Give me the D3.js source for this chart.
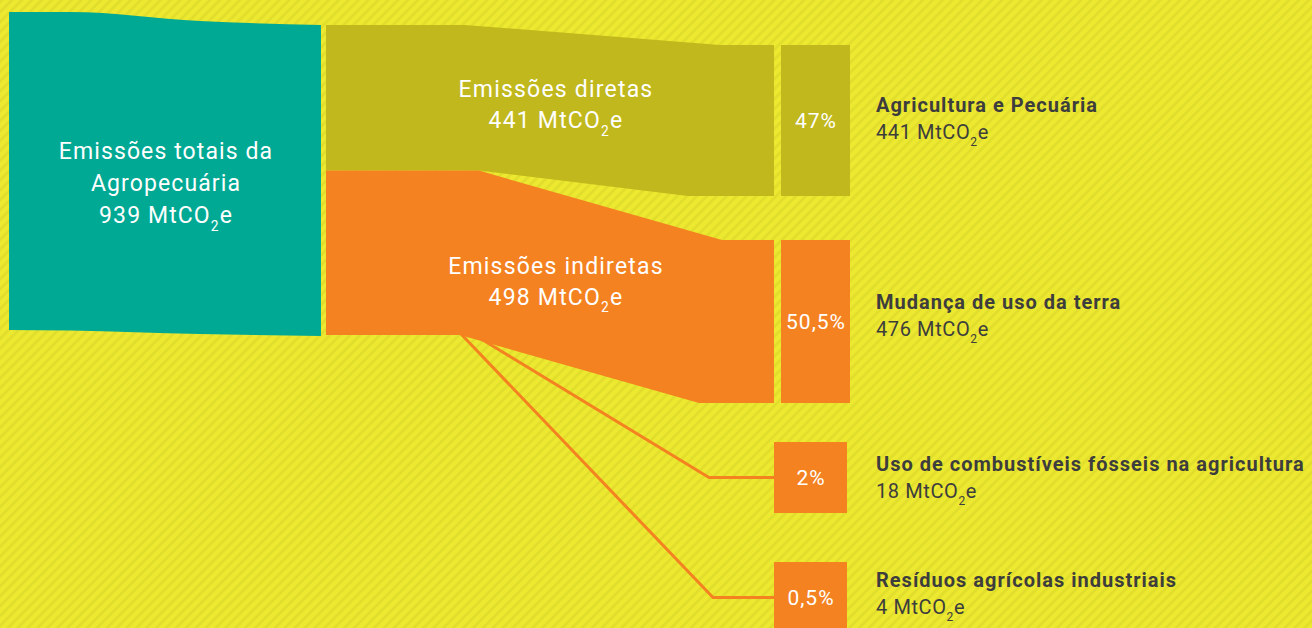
<!DOCTYPE html>
<html>
<head>
<meta charset="utf-8">
<script src="https://cdn.jsdelivr.net/npm/d3@7"></script>
<style>
  html, body { margin: 0; padding: 0; background: #ECE930; }
  svg { display: block; }
  text { font-family: Roboto, "Noto Sans", sans-serif; }
</style>
</head>
<body>
<svg id="chart" width="1312" height="628"></svg>
<script>
// ---------- data ----------
const totalLabel = ["Emissões totais da", "Agropecuária"];
const totalValue = 939;
const groupNames = ["Emissões diretas", "Emissões indiretas"];
const groupValues = [441, 498];
const sectorNames = ["Agricultura e Pecuária", "Mudança de uso da terra",
  "Uso de combustíveis fósseis na agricultura", "Resíduos agrícolas industriais"];
const sectorValues = [441, 476, 18, 4];
const sectorShares = ["47%", "50,5%", "2%", "0,5%"];
const sectorGroup = [0, 1, 1, 1];
const unit = "MtCO";

// ---------- style / layout ----------
const W = 1312, H = 628;
const C = { bg: "#ECE930", stripe: "#E1DD2C", teal: "#00A994", olive: "#C1B81D", orange: "#F48221", text: "#3D3D3D" };
const svg = d3.select("#chart");

const defs = svg.append("defs");
const pat = defs.append("pattern").attr("id", "stripes")
  .attr("width", 7).attr("height", 7).attr("patternUnits", "userSpaceOnUse")
  .attr("patternTransform", "rotate(45)");
pat.append("rect").attr("width", 7).attr("height", 7).attr("fill", C.bg);
pat.append("line").attr("x1", 1.5).attr("y1", 0).attr("x2", 1.5).attr("y2", 7)
  .attr("stroke", C.stripe).attr("stroke-width", 2.6);
svg.append("rect").attr("width", W).attr("height", H).attr("fill", "url(#stripes)");

// scales
const kTotal = d3.scaleLinear().domain([0, totalValue]).range([0, 318]);
const kGroup = d3.scaleLinear().domain([0, d3.sum(groupValues)]).range([0, 310]);
const kBox = d3.scaleLinear().domain([0, 476]).range([0, 163]);
const minBox = 71;

// column x
const x0 = 9, x1 = 321, x2 = 326, xFlowEnd = 774, xBox = 781, xBoxEnd = 850, xSmall = 774, xSmallEnd = 847, xLabel = 876;

// node 1 (teal)
const tealTopL = 12, tealTopR = 25;
const tealBotL = tealTopL + kTotal(totalValue), tealBotR = 336;
const curve = d3.line().curve(d3.curveMonotoneX);
const tealTop = [[x0, tealTopL], [70, tealTopL], [200, 21], [x1, tealTopR]];
const tealBot = [[x1, tealBotR], [200, 334], [70, tealBotL + 0.5], [x0, tealBotL]];
svg.append("path").attr("fill", C.teal)
  .attr("d", curve(tealTop) + "L" + curve(tealBot).slice(1) + "Z");

// groups stacking
const gTop = 25;
const groupY = [];
let acc = gTop;
groupValues.forEach(v => { groupY.push([acc, acc + kGroup(v)]); acc += kGroup(v); });

// sector boxes
const boxGaps = [0, 44, 39, 49];
const boxY = [];
let by = 45;
sectorValues.forEach((v, i) => {
  by += boxGaps[i];
  const h = Math.max(minBox, kBox(v));
  boxY.push([by, by + h]);
  by += h;
});

// flows
const lin = d3.line();
function flowPath(topPts, botPts) {
  return lin(topPts) + "L" + lin(botPts.slice().reverse()).slice(1) + "Z";
}
// direct
const gd = groupY[0], bd = boxY[0];
svg.append("path").attr("fill", C.olive).attr("d", flowPath(
  [[x2, gd[0]], [465, gd[0]], [720, bd[0]], [xFlowEnd, bd[0]]],
  [[x2, gd[1]], [479, gd[1]], [688, bd[1]], [xFlowEnd, bd[1]]]));
// indirect (main flow to land use)
const gi = groupY[1], bi = boxY[1];
svg.append("path").attr("fill", C.orange).attr("d", flowPath(
  [[x2, gi[0]], [479, gi[0]], [722, bi[0]], [xFlowEnd, bi[0]]],
  [[x2, gi[1]], [460, gi[1]], [699, bi[1]], [xFlowEnd, bi[1]]]));

// thin connector lines for small sectors
const lineStarts = [473, 461];
const lineBends = [709, 713];
[2, 3].forEach((s, j) => {
  const cy = (boxY[s][0] + boxY[s][1]) / 2;
  svg.append("path").attr("fill", "none").attr("stroke", C.orange).attr("stroke-width", 3)
    .attr("stroke-linejoin", "miter")
    .attr("d", lin([[lineStarts[j], gi[1] - 1], [lineBends[j], cy], [xSmall + 1, cy]]));
});

// boxes
sectorValues.forEach((v, i) => {
  const small = i >= 2;
  const xa = small ? xSmall : xBox, xb = small ? xSmallEnd : xBoxEnd;
  svg.append("rect").attr("x", xa).attr("y", boxY[i][0]).attr("width", xb - xa)
    .attr("height", boxY[i][1] - boxY[i][0])
    .attr("fill", sectorGroup[i] === 0 ? C.olive : C.orange);
  const cy = (boxY[i][0] + boxY[i][1]) / 2;
  svg.append("text").attr("x", (xa + xb) / 2 + 0.5).attr("y", cy + 7)
    .attr("text-anchor", "middle").attr("fill", "#fff").attr("font-size", 21)
    .attr("letter-spacing", 1).text(sectorShares[i]);
});

// value text helper with subscript
function valueText(sel, value, size) {
  sel.append("tspan").text(value + " " + unit);
  sel.append("tspan").attr("font-size", size * 0.6).attr("dy", size * 0.33).text("2");
  sel.append("tspan").attr("dy", -size * 0.33).text("e");
}

// teal label
const tcx = (x0 + x1) / 2 + 1;
const tl = svg.append("g").attr("fill", "#fff").attr("font-size", 23)
  .attr("letter-spacing", 1.1).attr("text-anchor", "middle");
totalLabel.forEach((t, i) => tl.append("text").attr("x", tcx).attr("y", 159 + i * 32).text(t));
valueText(tl.append("text").attr("x", tcx).attr("y", 223), totalValue, 23);

// group labels
const groupLabelOffsets = [72, 103];
groupNames.forEach((n, i) => {
  const g = svg.append("g").attr("fill", "#fff").attr("font-size", 23)
    .attr("letter-spacing", 1.2).attr("text-anchor", "middle");
  const yb = groupY[i][0] + groupLabelOffsets[i];
  g.append("text").attr("x", 556).attr("y", yb).text(n);
  valueText(g.append("text").attr("x", 556).attr("y", yb + 31), groupValues[i], 23);
});

// right labels
sectorNames.forEach((n, i) => {
  const nameY = [112, 309, 471, 587][i];
  svg.append("text").attr("x", xLabel).attr("y", nameY)
    .attr("fill", C.text).attr("font-size", 20).attr("font-weight", 700)
    .attr("letter-spacing", 1).text(n);
  valueText(svg.append("text").attr("x", xLabel).attr("y", nameY + 27)
    .attr("fill", C.text).attr("font-size", 20).attr("letter-spacing", 0.6), sectorValues[i], 20);
});
</script>
</body>
</html>
